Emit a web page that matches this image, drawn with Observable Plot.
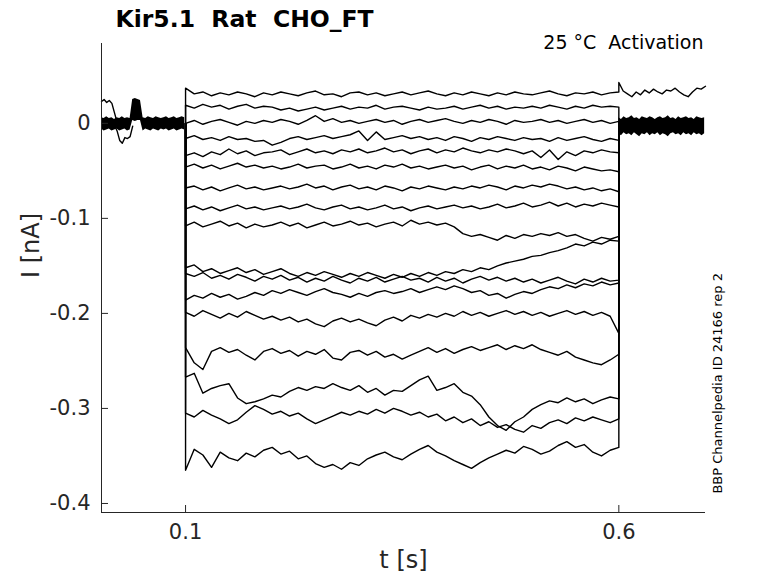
<!DOCTYPE html>
<html><head><meta charset="utf-8">
<script src="https://cdn.jsdelivr.net/npm/d3@7"></script>
<script src="https://cdn.jsdelivr.net/npm/@observablehq/plot@0.6"></script>
<style>
body{margin:0;background:#fff;}
svg text{white-space:pre;}
</style>
</head><body><div id="chart"></div>
<script>
// ---- texts & ticks ----
const title = "Kir5.1  Rat  CHO_FT";
const subtitle = "25 °C  Activation";
const sideNote = "BBP Channelpedia ID 24166 rep 2";
const xLabel = "t [s]";
const yLabel = "I [nA]";
const xTicks = [0.1, 0.6];
const yTicks = [0, -0.1, -0.2, -0.3, -0.4];
const xDomain = [0.003, 0.7];
const yDomain = [-0.4095, 0.084];

// ---- protocol ----
const stepStart = 0.1, stepEnd = 0.6, holdingLevel = 0, postHold = -0.002;

// ---- step currents (nA), 51 samples from 0.1 s to 0.6 s ----
const sweep01 = [0.037,0.031,0.033,0.029,0.032,0.030,0.033,0.031,0.028,0.032,
 0.030,0.033,0.031,0.029,0.032,0.034,0.030,0.031,0.028,0.032,
 0.033,0.030,0.032,0.029,0.031,0.033,0.030,0.032,0.034,0.031,
 0.029,0.032,0.030,0.033,0.031,0.029,0.032,0.030,0.033,0.031,
 0.030,0.032,0.034,0.031,0.029,0.032,0.031,0.033,0.030,0.032,0.033];
const sweep02 = [0.019,0.016,0.020,0.017,0.019,0.015,0.018,0.020,0.016,0.018,
 0.017,0.014,0.016,0.013,0.015,0.017,0.014,0.016,0.018,0.015,
 0.017,0.016,0.019,0.015,0.017,0.018,0.016,0.014,0.017,0.015,
 0.016,0.018,0.015,0.017,0.019,0.016,0.018,0.015,0.017,0.016,
 0.018,0.016,0.019,0.017,0.015,0.018,0.016,0.019,0.017,0.018,0.017];
const sweep03 = [0.000,0.003,-0.001,0.002,0.004,0.001,-0.002,0.002,0.000,0.003,
 0.001,0.004,0.002,-0.001,0.003,0.008,0.002,0.005,0.001,0.003,
 0.000,0.002,0.004,0.001,0.003,-0.001,0.002,0.004,0.001,0.003,
 0.005,0.002,0.000,0.003,0.001,0.004,0.002,-0.001,0.003,0.001,
 0.002,0.004,0.001,0.003,0.000,0.002,0.004,0.001,0.003,0.000,0.002];
const sweep04 = [-0.016,-0.013,-0.017,-0.015,-0.018,-0.014,-0.017,-0.016,-0.019,-0.018,
 -0.023,-0.020,-0.016,-0.014,-0.017,-0.015,-0.013,-0.016,-0.014,-0.012,
 -0.008,-0.018,-0.009,-0.017,-0.015,-0.013,-0.016,-0.014,-0.017,-0.015,
 -0.018,-0.014,-0.016,-0.019,-0.015,-0.017,-0.014,-0.016,-0.018,-0.015,
 -0.017,-0.016,-0.019,-0.015,-0.018,-0.016,-0.014,-0.017,-0.019,-0.016,-0.018];
const sweep05 = [-0.034,-0.031,-0.035,-0.030,-0.033,-0.027,-0.032,-0.029,-0.034,-0.031,
 -0.030,-0.028,-0.033,-0.030,-0.027,-0.031,-0.029,-0.032,-0.028,-0.030,
 -0.027,-0.031,-0.029,-0.026,-0.030,-0.028,-0.032,-0.029,-0.027,-0.031,
 -0.028,-0.030,-0.026,-0.029,-0.031,-0.028,-0.030,-0.027,-0.029,-0.032,
 -0.029,-0.036,-0.028,-0.038,-0.030,-0.034,-0.029,-0.031,-0.028,-0.030,-0.031];
const sweep06 = [-0.046,-0.043,-0.047,-0.044,-0.048,-0.045,-0.042,-0.046,-0.044,-0.047,
 -0.045,-0.048,-0.046,-0.043,-0.047,-0.045,-0.044,-0.048,-0.046,-0.043,
 -0.047,-0.045,-0.048,-0.044,-0.046,-0.043,-0.047,-0.045,-0.048,-0.046,
 -0.044,-0.047,-0.045,-0.049,-0.046,-0.044,-0.048,-0.045,-0.047,-0.044,
 -0.048,-0.046,-0.049,-0.045,-0.047,-0.050,-0.046,-0.048,-0.050,-0.049,-0.051];
const sweep07 = [-0.068,-0.066,-0.070,-0.067,-0.071,-0.068,-0.065,-0.069,-0.067,-0.070,
 -0.068,-0.066,-0.069,-0.067,-0.064,-0.068,-0.066,-0.070,-0.067,-0.065,
 -0.069,-0.067,-0.070,-0.066,-0.068,-0.071,-0.067,-0.069,-0.066,-0.068,
 -0.070,-0.067,-0.069,-0.066,-0.068,-0.065,-0.067,-0.070,-0.066,-0.068,
 -0.065,-0.067,-0.064,-0.066,-0.069,-0.067,-0.070,-0.068,-0.071,-0.069,-0.072];
const sweep08 = [-0.090,-0.087,-0.091,-0.088,-0.092,-0.089,-0.086,-0.090,-0.088,-0.091,
 -0.089,-0.087,-0.090,-0.088,-0.085,-0.089,-0.091,-0.088,-0.086,-0.090,
 -0.088,-0.091,-0.089,-0.086,-0.090,-0.088,-0.092,-0.089,-0.087,-0.090,
 -0.088,-0.086,-0.089,-0.087,-0.090,-0.088,-0.085,-0.089,-0.087,-0.084,
 -0.088,-0.086,-0.083,-0.087,-0.084,-0.088,-0.085,-0.087,-0.084,-0.086,-0.088];
const sweep09 = [-0.108,-0.104,-0.109,-0.106,-0.103,-0.108,-0.105,-0.110,-0.106,-0.109,
 -0.107,-0.104,-0.108,-0.105,-0.110,-0.107,-0.104,-0.108,-0.106,-0.103,
 -0.107,-0.105,-0.109,-0.106,-0.104,-0.108,-0.102,-0.106,-0.104,-0.107,
 -0.105,-0.109,-0.116,-0.119,-0.117,-0.120,-0.123,-0.118,-0.121,-0.117,
 -0.119,-0.116,-0.118,-0.115,-0.119,-0.117,-0.121,-0.124,-0.120,-0.122,-0.119];
const sweep10 = [-0.152,-0.149,-0.156,-0.153,-0.158,-0.155,-0.152,-0.157,-0.154,-0.159,
 -0.156,-0.153,-0.158,-0.161,-0.157,-0.160,-0.156,-0.159,-0.162,-0.158,
 -0.161,-0.157,-0.160,-0.163,-0.159,-0.162,-0.158,-0.161,-0.157,-0.160,
 -0.156,-0.158,-0.154,-0.156,-0.152,-0.154,-0.150,-0.147,-0.145,-0.143,
 -0.140,-0.139,-0.136,-0.134,-0.131,-0.127,-0.129,-0.125,-0.127,-0.123,-0.124];
const sweep11 = [-0.158,-0.161,-0.157,-0.163,-0.160,-0.164,-0.159,-0.162,-0.166,-0.161,
 -0.164,-0.160,-0.165,-0.162,-0.167,-0.163,-0.166,-0.161,-0.165,-0.168,
 -0.163,-0.166,-0.162,-0.167,-0.164,-0.161,-0.165,-0.163,-0.167,-0.162,
 -0.166,-0.163,-0.168,-0.164,-0.161,-0.165,-0.162,-0.166,-0.163,-0.167,
 -0.164,-0.168,-0.165,-0.162,-0.166,-0.169,-0.164,-0.167,-0.163,-0.166,-0.165];
const sweep12 = [-0.186,-0.181,-0.184,-0.179,-0.183,-0.180,-0.185,-0.182,-0.178,-0.181,
 -0.176,-0.179,-0.175,-0.178,-0.181,-0.177,-0.174,-0.178,-0.180,-0.183,
 -0.179,-0.182,-0.178,-0.176,-0.179,-0.177,-0.174,-0.178,-0.175,-0.172,
 -0.175,-0.171,-0.174,-0.178,-0.176,-0.181,-0.179,-0.184,-0.180,-0.177,
 -0.179,-0.175,-0.172,-0.174,-0.170,-0.173,-0.169,-0.171,-0.167,-0.170,-0.168];
const sweep13 = [-0.199,-0.203,-0.197,-0.201,-0.205,-0.200,-0.204,-0.198,-0.202,-0.206,
 -0.203,-0.207,-0.204,-0.209,-0.206,-0.211,-0.214,-0.208,-0.205,-0.209,
 -0.206,-0.210,-0.213,-0.207,-0.204,-0.208,-0.202,-0.205,-0.201,-0.204,
 -0.200,-0.203,-0.198,-0.202,-0.199,-0.203,-0.200,-0.197,-0.201,-0.198,
 -0.202,-0.199,-0.203,-0.200,-0.197,-0.201,-0.198,-0.202,-0.199,-0.203,-0.221];
const sweep14 = [-0.236,-0.252,-0.259,-0.240,-0.236,-0.241,-0.238,-0.244,-0.249,-0.240,
 -0.237,-0.242,-0.239,-0.245,-0.240,-0.243,-0.238,-0.247,-0.249,-0.241,
 -0.239,-0.244,-0.240,-0.246,-0.243,-0.248,-0.244,-0.240,-0.236,-0.241,
 -0.237,-0.242,-0.238,-0.235,-0.239,-0.236,-0.233,-0.238,-0.234,-0.237,
 -0.233,-0.238,-0.241,-0.244,-0.240,-0.246,-0.249,-0.252,-0.254,-0.249,-0.243];
const sweep15 = [-0.267,-0.263,-0.284,-0.279,-0.276,-0.274,-0.289,-0.295,-0.293,-0.290,
 -0.286,-0.288,-0.282,-0.278,-0.281,-0.277,-0.279,-0.274,-0.278,-0.281,
 -0.276,-0.283,-0.279,-0.286,-0.281,-0.282,-0.276,-0.270,-0.266,-0.281,
 -0.278,-0.274,-0.283,-0.287,-0.296,-0.309,-0.318,-0.323,-0.314,-0.309,
 -0.301,-0.296,-0.292,-0.294,-0.289,-0.293,-0.290,-0.295,-0.291,-0.288,-0.290];
const sweep16 = [-0.305,-0.309,-0.302,-0.307,-0.311,-0.316,-0.312,-0.304,-0.297,-0.301,
 -0.306,-0.303,-0.308,-0.305,-0.311,-0.316,-0.312,-0.308,-0.304,-0.307,
 -0.303,-0.306,-0.301,-0.305,-0.300,-0.303,-0.307,-0.304,-0.309,-0.306,
 -0.313,-0.309,-0.315,-0.311,-0.318,-0.314,-0.320,-0.317,-0.322,-0.325,
 -0.318,-0.321,-0.315,-0.312,-0.316,-0.310,-0.313,-0.309,-0.312,-0.315,-0.311];
const sweep17 = [-0.365,-0.343,-0.349,-0.362,-0.346,-0.352,-0.355,-0.347,-0.351,-0.344,
 -0.341,-0.348,-0.345,-0.353,-0.350,-0.358,-0.362,-0.359,-0.364,-0.357,
 -0.360,-0.353,-0.349,-0.346,-0.351,-0.354,-0.348,-0.343,-0.339,-0.346,
 -0.350,-0.355,-0.359,-0.363,-0.357,-0.352,-0.348,-0.344,-0.347,-0.340,
 -0.343,-0.348,-0.345,-0.339,-0.335,-0.341,-0.338,-0.346,-0.350,-0.344,-0.341];

// ---- holding period before the step: envelope of the overlapping noisy sweeps (0.003 s .. 0.099 s, every 3 ms) ----
const preHi = [0.006,0.005,0.007,0.005,0.006,0.004,0.006,0.005,0.007,0.005,
 0.006,0.005,0.025,0.026,0.025,0.024,0.006,0.005,0.007,0.006,
 0.005,0.007,0.006,0.005,0.006,0.007,0.005,0.006,0.007,0.005,
 0.006,0.007,0.006];
const preLo = [-0.006,-0.008,-0.007,-0.006,-0.008,-0.007,-0.006,-0.008,-0.007,-0.006,
 -0.008,-0.007,0.003,0.002,0.003,0.003,-0.008,-0.006,-0.007,-0.008,
 -0.006,-0.007,-0.008,-0.006,-0.007,-0.006,-0.008,-0.007,-0.006,-0.008,
 -0.007,-0.006,-0.007];
const preUpT = [0.003,0.006,0.009,0.012,0.015,0.018,0.021];
const preUpV = [0.023,0.025,0.022,0.024,0.021,0.011,0.001];
const preDipT = [0.018,0.021,0.024,0.027,0.030,0.033,0.036,0.039];
const preDipV = [-0.002,-0.008,-0.018,-0.021,-0.015,-0.016,-0.014,-0.003];

// ---- after the step (0.6 s .. 0.699 s, every 3 ms) ----
const postHi = [0.006,0.004,0.007,0.005,0.006,0.008,0.005,0.006,0.004,0.007,
 0.006,0.005,0.007,0.006,0.004,0.006,0.007,0.005,0.006,0.008,
 0.005,0.006,0.004,0.007,0.005,0.006,0.007,0.005,0.006,0.004,
 0.007,0.006,0.005,0.006];
const postLo = [-0.011,-0.013,-0.010,-0.012,-0.011,-0.013,-0.010,-0.012,-0.014,-0.011,
 -0.012,-0.010,-0.013,-0.011,-0.012,-0.010,-0.013,-0.011,-0.012,-0.014,
 -0.011,-0.010,-0.012,-0.011,-0.013,-0.010,-0.012,-0.011,-0.013,-0.010,
 -0.012,-0.011,-0.013,-0.011];
// top sweep that stays up after the step (0.6 .. 0.7 s, every 5 ms)
const postTop = [0.043,0.034,0.031,0.028,0.033,0.030,0.035,0.032,0.036,0.033,
 0.031,0.035,0.034,0.037,0.033,0.030,0.028,0.033,0.037,0.036,0.039];

const sweeps = [sweep01,sweep02,sweep03,sweep04,sweep05,sweep06,sweep07,sweep08,sweep09,
  sweep10,sweep11,sweep12,sweep13,sweep14,sweep15,sweep16,sweep17];

// ---- build tables ----
const rows = [];
sweeps.forEach((vals, k) => {
  const n = vals.length;
  rows.push({sweep: k, t: stepStart, v: holdingLevel});
  vals.forEach((v, i) => rows.push({sweep: k, t: stepStart + i * (stepEnd - stepStart) / (n - 1), v}));
  if (k === 0) {
    postTop.forEach((v, i) => rows.push({sweep: k, t: stepEnd + i * 0.1 / (postTop.length - 1), v}));
  } else {
    rows.push({sweep: k, t: stepEnd, v: postHold});
  }
});
preUpT.forEach((t, i) => rows.push({sweep: 100, t, v: preUpV[i]}));
preDipT.forEach((t, i) => rows.push({sweep: 101, t, v: preDipV[i]}));

const preBand = preHi.map((hi, i) => ({t: 0.003 + i * 0.003, hi, lo: preLo[i]}));
const postBand = postHi.map((hi, i) => ({t: stepEnd + i * 0.003, hi, lo: postLo[i]}));

const W = 778, H = 583, mL = 101, mR = 73, mT = 43, mB = 71;
const plotW = W - mL - mR, plotH = H - mT - mB;
const axisColor = "#262626";

const chart = Plot.plot({
  width: W, height: H,
  marginLeft: mL, marginRight: mR, marginTop: mT, marginBottom: mB,
  style: {fontFamily: "DejaVu Sans", background: "#fff", color: axisColor},
  x: {domain: xDomain, label: null},
  y: {domain: yDomain, label: null},
  marks: [
    Plot.areaY(preBand, {x: "t", y1: "lo", y2: "hi", fill: "black"}),
    Plot.areaY(postBand, {x: "t", y1: "lo", y2: "hi", fill: "black"}),
    Plot.line(rows, {x: "t", y: "v", z: "sweep", stroke: "black", strokeWidth: 1.4}),
    Plot.ruleX([xDomain[0]], {stroke: axisColor}),
    Plot.ruleY([yDomain[0]], {stroke: axisColor}),
    Plot.tickY(yTicks, {y: d => d, insetRight: plotW - 7, stroke: axisColor}),
    Plot.tickX(xTicks, {x: d => d, insetTop: plotH - 7, stroke: axisColor}),
    Plot.axisY({ticks: yTicks, tickSize: 0, tickPadding: 11, fontSize: 21, fill: axisColor,
      tickFormat: d => d === 0 ? "0" : String(d), label: null}),
    Plot.axisX({ticks: xTicks, tickSize: 0, tickPadding: 12, fontSize: 21, fill: axisColor,
      tickFormat: d => String(d), label: null}),
    Plot.text([yLabel], {text: d => d, frameAnchor: "left", dx: -70, rotate: -90, fontSize: 24, fill: axisColor}),
    Plot.text([xLabel], {text: d => d, frameAnchor: "bottom", dy: 55, fontSize: 24, fill: axisColor}),
    Plot.text([title], {text: d => d, frameAnchor: "top-left", dx: 14, dy: -17, textAnchor: "start",
      lineAnchor: "bottom", fontSize: 23.5, fontWeight: "bold", fill: "black"}),
    Plot.text([subtitle], {text: d => d, frameAnchor: "top-right", dx: -2, dy: 5, textAnchor: "end",
      lineAnchor: "bottom", fontSize: 19, fill: "black"}),
    Plot.text([sideNote], {text: d => d, frameAnchor: "right", dx: 12, dy: -5, rotate: -90,
      fontSize: 13, fill: "black"})
  ]
});
document.getElementById("chart").appendChild(chart);
</script>
</body></html>
